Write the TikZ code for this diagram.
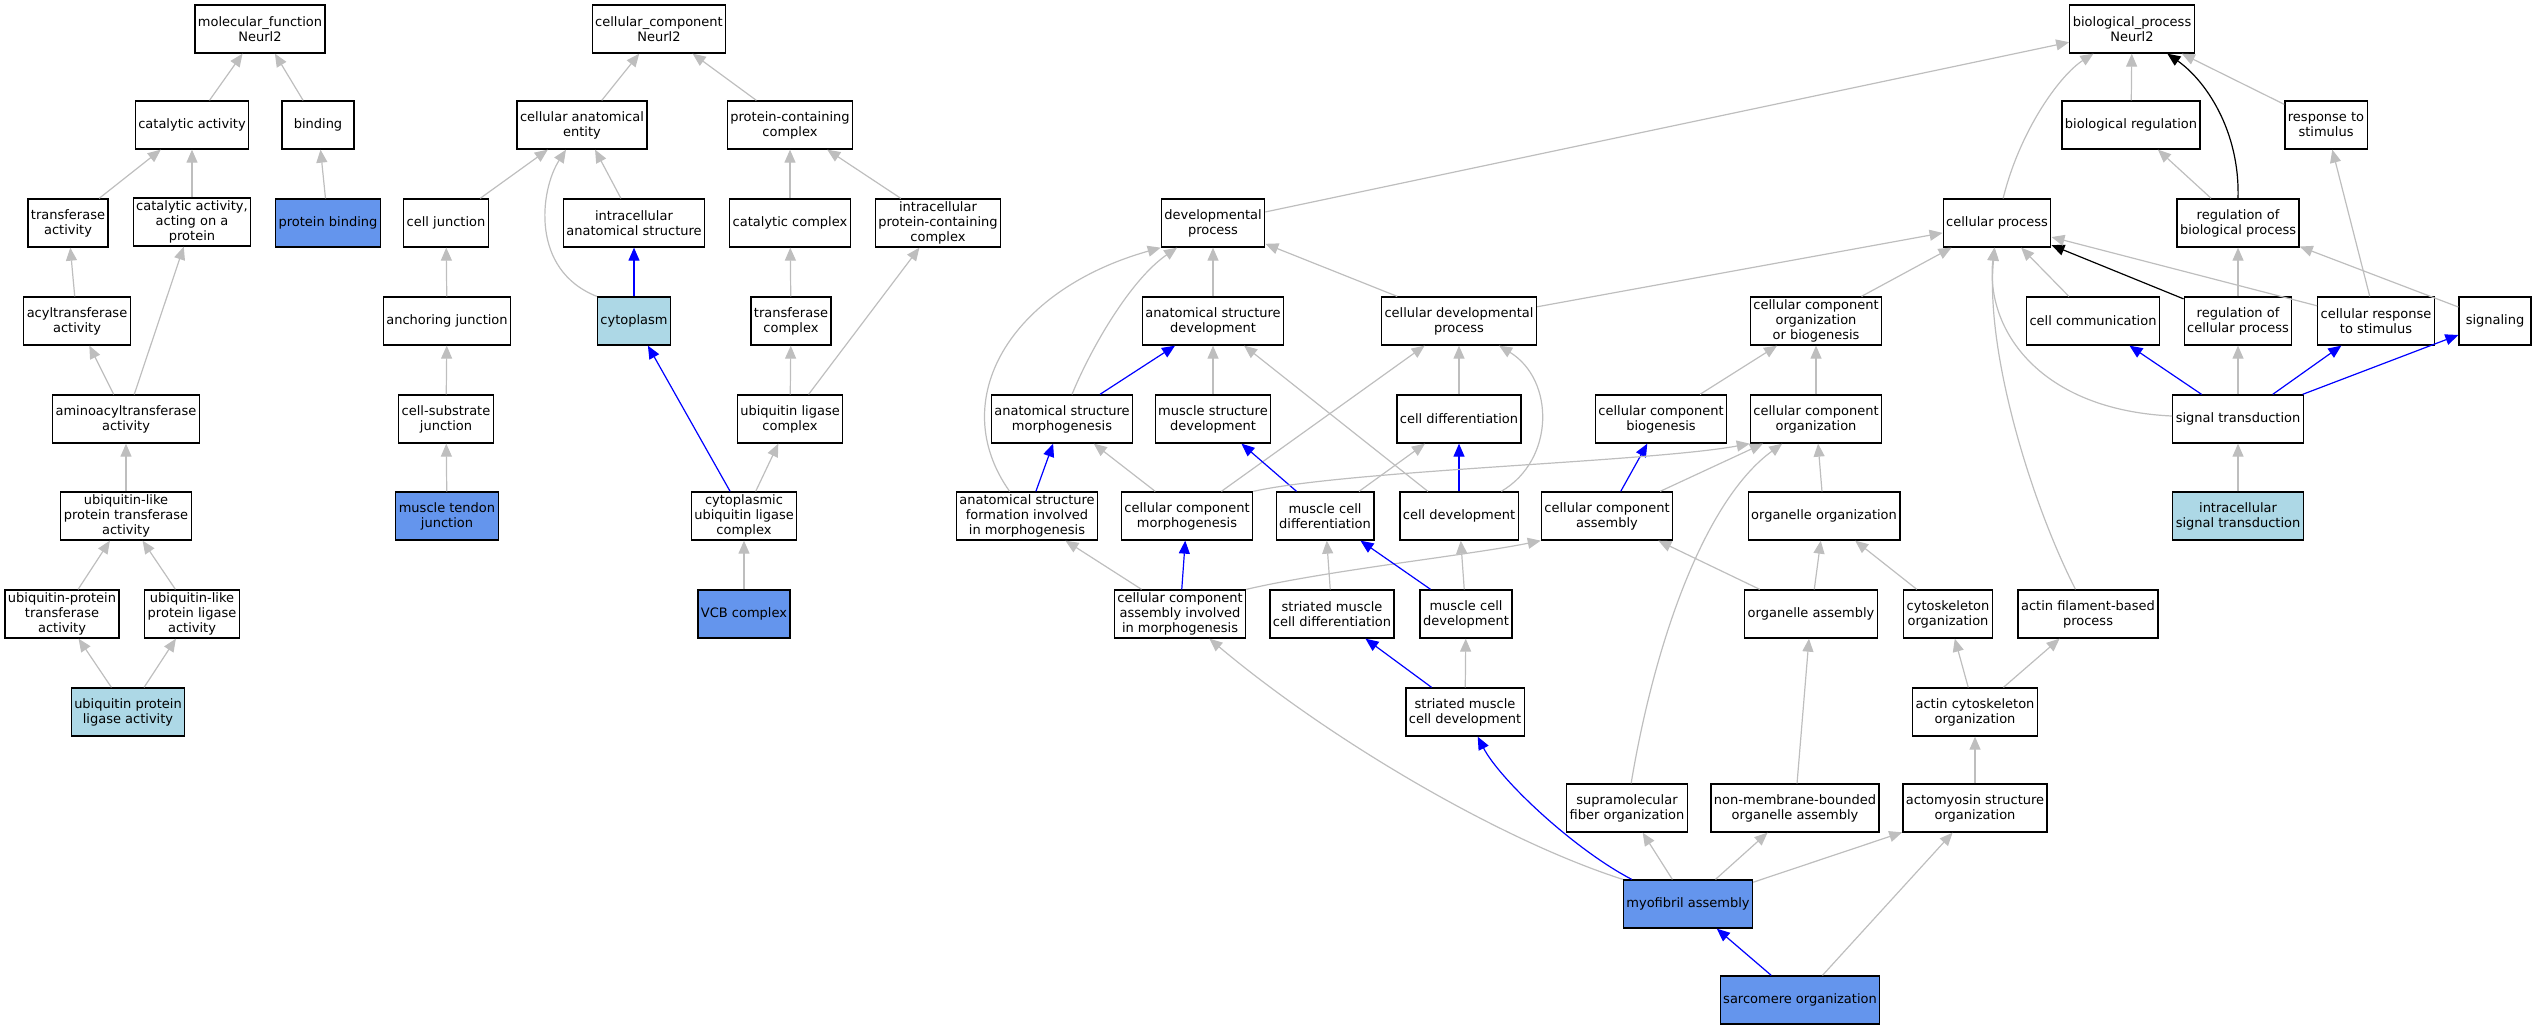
\documentclass[tikz,border=0pt]{standalone}
\usepackage{fontspec}
\setmainfont{DejaVu Sans}
\usepackage{tikz}
\usetikzlibrary{arrows.meta}
\definecolor{hit-blue}{RGB}{100,149,237}
\definecolor{leaf-blue}{RGB}{173,216,230}
\definecolor{edge-gray}{RGB}{190,190,190}
\tikzset{
    term-box/.style = {draw=black, fill=white, line width=0.65pt, rectangle, align=center, inner xsep=1.5pt, inner ysep=1pt, minimum width=36pt, minimum height=24pt, font=\fontsize{6.5pt}{7.5pt}\selectfont},
    hit-box/.style = {term-box, fill=hit-blue},
    leaf-box/.style = {term-box, fill=leaf-blue},
    is-a/.style = {draw=edge-gray, line width=0.6pt, -{Triangle[length=6.5pt, width=5.5pt]}},
    path-edge/.style = {is-a, draw=blue},
    reg-edge/.style = {is-a, draw=black},
}

\begin{document}
\begin{tikzpicture}[x=0.5pt, y=-0.5pt]
\useasboundingbox (0,0) rectangle (2536,1029);

\node[term-box] (mf) at (260,29) {molecular\_function\\Neurl2};
\node[term-box] (catact) at (192,125) {catalytic activity};
\node[term-box] (binding) at (318,125) {binding};
\node[term-box] (transf) at (68,223) {transferase\\activity};
\node[term-box] (catprot) at (192,222) {catalytic activity,\\acting on a\\protein};
\node[hit-box] (protbind) at (328,223) {protein binding};
\node[term-box] (acyl) at (77,321) {acyltransferase\\activity};
\node[term-box] (aminoacyl) at (126,419) {aminoacyltransferase\\activity};
\node[term-box] (ublpt) at (126,516) {ubiquitin-like\\protein transferase\\activity};
\node[term-box] (ubpt) at (62,614) {ubiquitin-protein\\transferase\\activity};
\node[term-box] (ublpl) at (192,614) {ubiquitin-like\\protein ligase\\activity};
\node[leaf-box] (ubpl) at (128,712) {ubiquitin protein\\ligase activity};

\node[term-box] (cc) at (659,29) {cellular\_component\\Neurl2};
\node[term-box] (cae) at (582,125) {cellular anatomical\\entity};
\node[term-box] (pcc) at (790,125) {protein-containing\\complex};
\node[term-box] (celljunc) at (446,223) {cell junction};
\node[term-box] (ias) at (634,223) {intracellular\\anatomical structure};
\node[term-box] (catcomp) at (790,223) {catalytic complex};
\node[term-box] (ipcc) at (938,223) {intracellular\\protein-containing\\complex};
\node[term-box] (anchor) at (447,321) {anchoring junction};
\node[leaf-box] (cyto) at (634,321) {cytoplasm};
\node[term-box] (trcomp) at (791,321) {transferase\\complex};
\node[term-box] (cellsub) at (446,419) {cell-substrate\\junction};
\node[term-box] (ublc) at (790,419) {ubiquitin ligase\\complex};
\node[hit-box] (mtj) at (447,516) {muscle tendon\\junction};
\node[term-box] (cublc) at (744,516) {cytoplasmic\\ubiquitin ligase\\complex};
\node[hit-box] (vcb) at (744,614) {VCB complex};

\node[term-box] (bp) at (2132,29) {biological\_process\\Neurl2};
\node[term-box] (bioreg) at (2131,125) {biological regulation};
\node[term-box] (resp) at (2326,125) {response to\\stimulus};
\node[term-box] (dev) at (1213,223) {developmental\\process};
\node[term-box] (cellproc) at (1997,223) {cellular process};
\node[term-box] (regbp) at (2238,223) {regulation of\\biological process};
\node[term-box] (asd) at (1213,321) {anatomical structure\\development};
\node[term-box] (cdp) at (1459,321) {cellular developmental\\process};
\node[term-box] (ccob) at (1816,321) {cellular component\\organization\\or biogenesis};
\node[term-box] (cellcomm) at (2093,321) {cell communication};
\node[term-box] (regcp) at (2238,321) {regulation of\\cellular process};
\node[term-box] (crs) at (2376,321) {cellular response\\to stimulus};
\node[term-box] (signaling) at (2495,321) {signaling};
\node[term-box] (asm) at (1062,419) {anatomical structure\\morphogenesis};
\node[term-box] (msd) at (1213,419) {muscle structure\\development};
\node[term-box] (celldiff) at (1459,419) {cell differentiation};
\node[term-box] (ccbio) at (1661,419) {cellular component\\biogenesis};
\node[term-box] (ccorg) at (1816,419) {cellular component\\organization};
\node[term-box] (sigtrans) at (2238,419) {signal transduction};
\node[term-box] (afm) at (1027,516) {anatomical structure\\formation involved\\in morphogenesis};
\node[term-box] (ccm) at (1187,516) {cellular component\\morphogenesis};
\node[term-box] (mcdiff) at (1325,516) {muscle cell\\differentiation};
\node[term-box] (celldev) at (1459,516) {cell development};
\node[term-box] (cca) at (1607,516) {cellular component\\assembly};
\node[term-box] (orgorg) at (1824,516) {organelle organization};
\node[leaf-box] (isigtrans) at (2238,516) {intracellular\\signal transduction};
\node[term-box] (ccaim) at (1180,614) {cellular component\\assembly involved\\in morphogenesis};
\node[term-box] (smcdiff) at (1332,614) {striated muscle\\cell differentiation};
\node[term-box] (mcdev) at (1466,614) {muscle cell\\development};
\node[term-box] (orgass) at (1811,614) {organelle assembly};
\node[term-box] (cytoorg) at (1948,614) {cytoskeleton\\organization};
\node[term-box] (afbp) at (2088,614) {actin filament-based\\process};
\node[term-box] (smcdev) at (1465,712) {striated muscle\\cell development};
\node[term-box] (acorg) at (1975,712) {actin cytoskeleton\\organization};
\node[term-box] (sfo) at (1627,808) {supramolecular\\fiber organization};
\node[term-box] (nmboa) at (1795,808) {non-membrane-bounded\\organelle assembly};
\node[term-box] (amso) at (1975,808) {actomyosin structure\\organization};
\node[hit-box] (myo) at (1688,904) {myofibril assembly};
\node[hit-box] (sarc) at (1800,1000) {sarcomere organization};

\draw[is-a] (catact) -- (mf);
\draw[is-a] (binding) -- (mf);
\draw[is-a] (transf) -- (catact);
\draw[is-a] (catprot) -- (catact);
\draw[is-a] (protbind) -- (binding);
\draw[is-a] (acyl) -- (transf);
\draw[is-a] (aminoacyl) -- (acyl);
\draw[is-a] (aminoacyl) -- (catprot);
\draw[is-a] (ublpt) -- (aminoacyl);
\draw[is-a] (ubpt) -- (ublpt);
\draw[is-a] (ublpl) -- (ublpt);
\draw[is-a] (ubpl) -- (ubpt);
\draw[is-a] (ubpl) -- (ublpl);

\draw[is-a] (cae) -- (cc);
\draw[is-a] (pcc) -- (cc);
\draw[is-a] (celljunc) -- (cae);
\draw[is-a] (cyto.north west) .. controls (530,270) and (540,190) .. ([xshift=-8pt]cae.south);
\draw[is-a] (ias) -- (cae);
\draw[is-a] (catcomp) -- (pcc);
\draw[is-a] (ipcc) -- (pcc);
\draw[path-edge] (cyto) -- (ias);
\draw[is-a] (anchor) -- (celljunc);
\draw[is-a] (cellsub) -- (anchor);
\draw[is-a] (mtj) -- (cellsub);
\draw[is-a] (trcomp) -- (catcomp);
\draw[is-a] (ublc) -- (trcomp);
\draw[is-a] (ublc) -- (ipcc);
\draw[is-a] (cublc) -- (ublc);
\draw[path-edge] (cublc) -- (cyto);
\draw[is-a] (vcb) -- (cublc);

\draw[is-a] (dev) -- (bp);
\draw[is-a] (cellproc) .. controls (2020,130) and (2060,75) .. (bp);
\draw[is-a] (bioreg) -- (bp);
\draw[reg-edge] (regbp.north) .. controls (2240,130) and (2205,80) .. (bp);
\draw[is-a] (resp) -- (bp);
\draw[is-a] (regbp) -- (bioreg);
\draw[is-a] (asd) -- (dev);
\draw[is-a] (cdp) -- (dev);
\draw[is-a] (asm) .. controls (1090,350) and (1130,280) .. (dev);
\draw[is-a] (afm) .. controls (945,400) and (1010,290) .. (dev.south west);
\draw[is-a] (cdp) -- (cellproc);
\draw[is-a] (ccob) -- (cellproc);
\draw[is-a] (cellcomm) -- (cellproc);
\draw[reg-edge] (regcp) -- (cellproc);
\draw[is-a] (crs) -- (cellproc);
\draw[is-a] (sigtrans) .. controls (2040,410) and (1985,330) .. (cellproc);
\draw[is-a] (afbp) .. controls (2030,500) and (1985,350) .. (cellproc);
\draw[is-a] (regcp) -- (regbp);
\draw[is-a] (signaling) -- (regbp);
\draw[is-a] (crs) -- (resp);
\draw[path-edge] (asm) -- (asd);
\draw[is-a] (msd) -- (asd);
\draw[is-a] (celldev) -- (asd);
\draw[is-a] (celldiff) -- (cdp);
\draw[is-a] (ccm) -- (cdp);
\draw[is-a] (celldev) .. controls (1555,460) and (1555,380) .. (cdp);
\draw[is-a] (ccbio) -- (ccob);
\draw[is-a] (ccorg) -- (ccob);
\draw[path-edge] (sigtrans) -- (cellcomm);
\draw[is-a] (sigtrans) -- (regcp);
\draw[path-edge] (sigtrans) -- (crs);
\draw[path-edge] (sigtrans) -- (signaling);
\draw[is-a] (isigtrans) -- (sigtrans);
\draw[path-edge] (afm) -- (asm);
\draw[is-a] (ccm) -- (asm);
\draw[path-edge] (mcdiff) -- (msd);
\draw[is-a] (mcdiff) -- (celldiff);
\draw[path-edge] (celldev) -- (celldiff);
\draw[path-edge] (cca) -- (ccbio);
\draw[is-a] (cca) -- (ccorg);
\draw[is-a] (orgorg) -- (ccorg);
\draw[is-a] (ccm.north east) .. controls (1350,470) and (1650,462) .. (ccorg.south west);
\draw[is-a] (sfo) .. controls (1655,640) and (1705,500) .. (ccorg);
\draw[is-a] (ccaim) -- (afm);
\draw[path-edge] (ccaim) -- (ccm);
\draw[is-a] (ccaim.north east) .. controls (1330,570) and (1470,555) .. (cca.south west);
\draw[is-a] (smcdiff) -- (mcdiff);
\draw[path-edge] (mcdev) -- (mcdiff);
\draw[is-a] (mcdev) -- (celldev);
\draw[is-a] (orgass) -- (cca);
\draw[is-a] (orgass) -- (orgorg);
\draw[is-a] (cytoorg) -- (orgorg);
\draw[path-edge] (smcdev) -- (smcdiff);
\draw[is-a] (smcdev) -- (mcdev);
\draw[is-a] (acorg) -- (cytoorg);
\draw[is-a] (acorg) -- (afbp);
\draw[is-a] (amso) -- (acorg);
\draw[is-a] (nmboa) -- (orgass);
\draw[is-a] (myo.north west) .. controls (1500,840) and (1330,740) .. (ccaim);
\draw[path-edge] ([xshift=4.5pt]myo.north west) .. controls (1575,850) and (1500,780) .. (smcdev);
\draw[is-a] (myo) -- (sfo);
\draw[is-a] (myo) -- (nmboa);
\draw[is-a] (myo) -- (amso);
\draw[path-edge] (sarc) -- (myo);
\draw[is-a] (sarc) -- (amso);
\end{tikzpicture}
\end{document}
